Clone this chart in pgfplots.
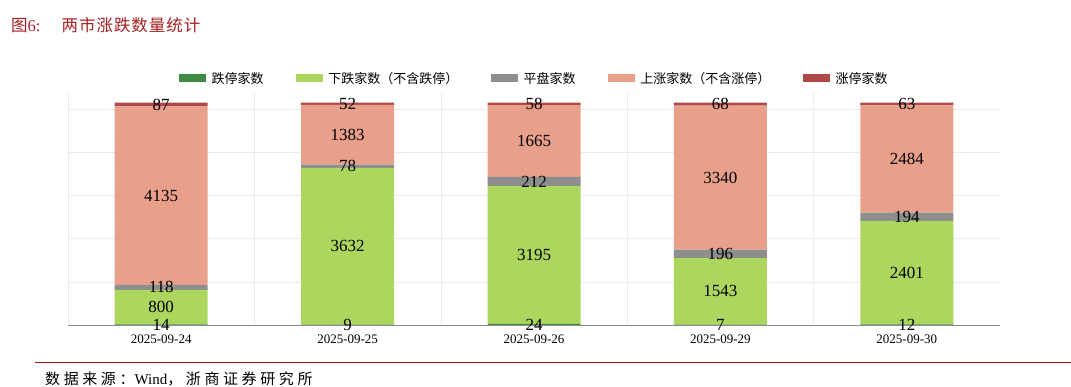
\documentclass[border=0pt]{standalone}
\usepackage{pgfplots}
\usepackage{pgfplotstable}
\pgfplotsset{compat=1.18}
\usepackage{fontspec}
\setmainfont{Liberation Serif}
\newfontfamily\cjk{Noto Sans CJK SC}
\newfontfamily\cjkwide[LetterSpace=24]{Noto Sans CJK SC}
\newfontfamily\cjktitle[LetterSpace=6]{Noto Sans CJK SC}
\definecolor{cLimDown}{HTML}{3D8B40}
\definecolor{cDown}{HTML}{ACD65D}
\definecolor{cFlat}{HTML}{8E8E8E}
\definecolor{cUp}{HTML}{E9A08A}
\definecolor{cLimUp}{HTML}{B04848}
\definecolor{titlered}{HTML}{A51E22}
\pgfplotstableread{
x v
0 14
1 9
2 24
3 7
4 12
}\limdown
\pgfplotstableread{
x v
0 800
1 3632
2 3195
3 1543
4 2401
}\down
\pgfplotstableread{
x v
0 118
1 78
2 212
3 196
4 194
}\flat
\pgfplotstableread{
x v
0 4135
1 1383
2 1665
3 3340
4 2484
}\up
\pgfplotstableread{
x v
0 87
1 52
2 58
3 68
4 63
}\limup
\begin{document}
\begin{tikzpicture}[x=1pt,y=1pt]
\path[use as bounding box] (0,0) rectangle (1071,387);
\node[anchor=west, text=titlered, font=\fontsize{16.5}{19}\selectfont, inner sep=0] at (11,362) {{\cjk 图}6:\hspace{21pt}{\cjktitle 两市涨跌数量统计}};
\draw[titlered, line width=0.8pt] (35,25) -- (1071,25);
\node[anchor=west, font=\fontsize{15}{17}\selectfont, inner sep=0] at (45,8) {{\cjkwide 数据来源：}Wind{\cjkwide ，浙商证券研究所}};
\begin{axis}[
  at={(68pt,62pt)}, anchor=south west,
  width=932pt, height=233pt, scale only axis,
  ybar stacked, bar width=93pt,
  xmin=-0.5, xmax=4.5, ymin=0, ymax=5400,
  xtick={0,1,2,3,4},
  xticklabels={2025-09-24,2025-09-25,2025-09-26,2025-09-29,2025-09-30},
  xticklabel style={font=\fontsize{13}{15}\selectfont, inner sep=1pt, yshift=-9pt},
  ytick={1000,2000,3000,4000,5000}, yticklabels={},
  ymajorgrids, major grid style={draw=black!8},
  minor xtick={-0.5,0.5,1.5,2.5,3.5}, xminorgrids, minor grid style={draw=black!8},
  major tick length=0pt, minor tick length=0pt,
  axis x line*=bottom, axis y line*=left,
  y axis line style={draw=none},
  x axis line style={draw=black!45, line width=0.8pt, -},
  /pgf/number format/assume math mode=true,
  /pgf/number format/1000 sep={},
  visualization depends on=\thisrow{v} \as \rawv,
  nodes near coords={\pgfmathprintnumber{\rawv}},
  nodes near coords style={font=\fontsize{17}{19}\selectfont, text=black, anchor=center, inner sep=0pt},
  legend columns=5,
  legend style={at={(0.5,1.058)}, anchor=center, draw=none, fill=none,
    font=\fontsize{13}{15}\selectfont,
    /tikz/every even column/.append style={column sep=30pt},
    /tikz/every odd column/.append style={column sep=4pt}},
  legend image code/.code={\fill[#1] (0pt,-4pt) rectangle (27pt,4pt);},
]
\addplot[fill=cLimDown, draw=none] table[x=x,y=v] {\limdown};
\addplot[fill=cDown, draw=none] table[x=x,y=v] {\down};
\addplot[fill=cFlat, draw=none] table[x=x,y=v] {\flat};
\addplot[fill=cUp, draw=none] table[x=x,y=v] {\up};
\addplot[fill=cLimUp, draw=none] table[x=x,y=v] {\limup};
\legend{{\cjk 跌停家数},{\cjk 下跌家数（不含跌停）},{\cjk 平盘家数},{\cjk 上涨家数（不含涨停）},{\cjk 涨停家数}}
\end{axis}
\end{tikzpicture}
\end{document}
